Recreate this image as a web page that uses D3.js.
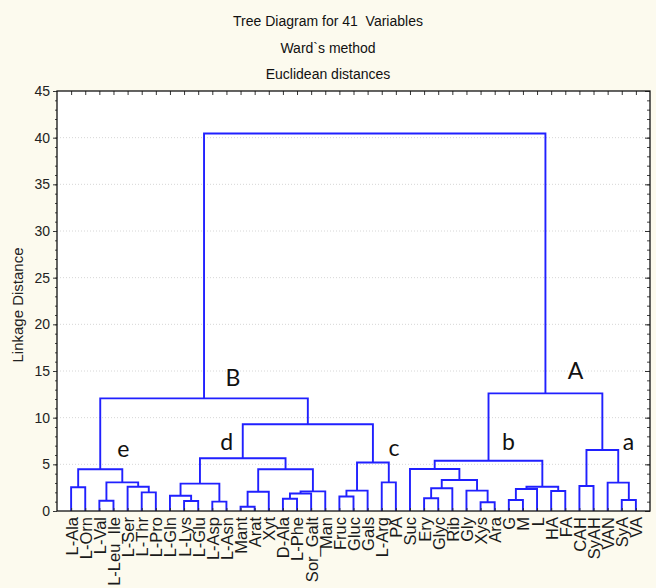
<!DOCTYPE html>
<html><head><meta charset="utf-8">
<script src="https://cdn.jsdelivr.net/npm/d3@7"></script>
<style>body{margin:0;background:#fcfaee}svg{display:block}</style>
</head><body>
<svg id="c" width="656" height="588"></svg>
<script>
const titleLines = ["Tree Diagram for 41  Variables", "Ward`s method", "Euclidean distances"];
const yAxisTitle = "Linkage Distance";
const yTicks = [0, 5, 10, 15, 20, 25, 30, 35, 40, 45];
const leafLabels = ["L-Ala","L-Orn","L-Val","L-Leu_Ile","L-Ser","L-Thr","L-Pro","L-Gln","L-Lys","L-Glu",
  "L-Asp","L-Asn","Mant","Arat","Xyt","D-Ala","L-Phe","Sor_Galt","Man","Fruc",
  "Gluc","Gals","L-Arg","PA","Suc","Ery","Glyc","Rib","Gly","Xys",
  "Ara","G","M","L","HA","FA","CAH","SyAH","VAN","SyA","VA"];
// linkage: node ids < 41 are leaves, ids >= 41 are earlier merges (41 + index)
const mergeLeft   = [0, 2, 5, 4, 42, 41, 8, 7, 10, 48, 12, 51, 15, 53, 54, 52, 50, 19, 58, 22, 59, 57, 46, 25, 64, 29, 28, 65, 24, 31, 70, 34, 71, 69, 36, 39, 38, 75, 74, 63];
const mergeRight  = [1, 3, 6, 43, 44, 45, 9, 47, 11, 49, 13, 14, 16, 17, 18, 55, 56, 20, 21, 23, 60, 61, 62, 26, 27, 30, 66, 67, 68, 32, 33, 35, 72, 73, 37, 40, 76, 77, 78, 79];
const mergeHeight = [2.55, 1.1, 2.0, 2.6, 3.07, 4.47, 1.07, 1.64, 1.0, 2.93, 0.45, 2.07, 1.32, 1.88, 2.1, 4.47, 5.65, 1.55, 2.18, 3.07, 5.2, 9.29, 12.07, 1.36, 2.43, 0.93, 2.18, 3.32, 4.5, 1.18, 2.36, 2.14, 2.6, 5.38, 2.68, 1.18, 3.04, 6.54, 12.6, 40.45];
const clusterNames = ["A", "B", "a", "b", "c", "d", "e"];
const clusterNodes = [79, 63, 78, 74, 61, 57, 46];

const W = 656, H = 588;
const L = 57, R = 650, T = 91, B = 511;
const svg = d3.select("#c");
svg.append("rect").attr("width", W).attr("height", H).attr("fill", "#fcfaee");
svg.append("rect").attr("x", L).attr("y", T).attr("width", R - L).attr("height", B - T).attr("fill", "#ffffff");

const x = d3.scalePoint().domain(d3.range(leafLabels.length)).range([L, R]).padding(1);
const y = d3.scaleLinear().domain([0, 45]).range([B, T]);

// grid
svg.append("g").selectAll("line").data(yTicks.filter(v => v > 0 && v < 45)).join("line")
  .attr("x1", L).attr("x2", R).attr("y1", d => y(d)).attr("y2", d => y(d))
  .attr("stroke", "#d6d6d6").attr("stroke-width", 1).attr("stroke-dasharray", "1,2");

// dendrogram
const nx = leafLabels.map((d, i) => x(i));
const nh = leafLabels.map(() => 0);
mergeLeft.forEach((l, k) => {
  const r = mergeRight[k];
  nx.push((nx[l] + nx[r]) / 2);
  nh.push(mergeHeight[k]);
});
svg.append("g").selectAll("path").data(mergeLeft.map((l, k) => k)).join("path")
  .attr("d", k => {
    const l = mergeLeft[k], r = mergeRight[k], h = mergeHeight[k];
    return `M${nx[l]},${y(nh[l])}V${y(h)}H${nx[r]}V${y(nh[r])}`;
  })
  .attr("fill", "none").attr("stroke", "#2020ff").attr("stroke-width", 1.9);

// axes
const minor = d3.range(0, 46, 1);
const gl = svg.append("g").attr("transform", `translate(${L},0)`)
  .call(d3.axisLeft(y).tickValues(yTicks).tickSize(4).tickPadding(3));
gl.select(".domain").remove();
gl.selectAll("text").attr("font-family", "Liberation Sans, Arial, sans-serif").attr("font-size", 14).attr("fill", "#222");
gl.selectAll("line").attr("stroke", "#333");
svg.append("g").attr("transform", `translate(${L},0)`)
  .call(d3.axisLeft(y).tickValues(minor).tickSize(2).tickFormat(""))
  .call(g => g.select(".domain").remove()).selectAll("line").attr("stroke", "#444");
svg.append("g").attr("transform", `translate(${R},0)`)
  .call(d3.axisLeft(y).tickValues(minor).tickSize(3).tickFormat(""))
  .call(g => g.select(".domain").remove()).selectAll("line").attr("stroke", "#444");
svg.append("g").attr("transform", `translate(${R},0)`)
  .call(d3.axisLeft(y).tickValues(yTicks).tickSize(5).tickFormat(""))
  .call(g => g.select(".domain").remove()).selectAll("line").attr("stroke", "#333");
svg.append("g").attr("transform", `translate(0,${T})`)
  .call(d3.axisBottom(x).tickSize(4).tickFormat(""))
  .call(g => g.select(".domain").remove()).selectAll("line").attr("stroke", "#333");
svg.append("g").attr("transform", `translate(0,${B})`)
  .call(d3.axisTop(x).tickSize(3).tickFormat(""))
  .call(g => g.select(".domain").remove()).selectAll("line").attr("stroke", "#333");
const gb = svg.append("g").attr("transform", `translate(0,${B})`)
  .call(d3.axisBottom(x).tickSize(0).tickFormat(i => leafLabels[i]));
gb.select(".domain").remove();
gb.selectAll("text")
  .attr("transform", "rotate(-90)").attr("text-anchor", "end")
  .attr("x", -6).attr("y", 0).attr("dy", "0.36em")
  .attr("font-family", "Liberation Sans, Arial, sans-serif").attr("font-size", 16.5).attr("fill", "#1a1a1a");

// frame
svg.append("rect").attr("x", L).attr("y", T).attr("width", R - L).attr("height", B - T)
  .attr("fill", "none").attr("stroke", "#111").attr("stroke-width", 1.3);

// titles
svg.append("g").selectAll("text").data(titleLines).join("text")
  .attr("x", 328).attr("y", (d, i) => 26 + i * 26.5)
  .attr("text-anchor", "middle").attr("font-family", "Liberation Sans, Arial, sans-serif")
  .style("white-space", "pre")
  .attr("font-size", 14).attr("fill", "#111").text(d => d);
svg.append("text").attr("transform", "translate(23,305) rotate(-90)")
  .attr("text-anchor", "middle").attr("font-family", "Liberation Sans, Arial, sans-serif")
  .attr("font-size", 15).attr("fill", "#222").text(yAxisTitle);

// cluster letters
const labelOffset = {A: [30, -14], B: [29, -12], a: [26, 0], b: [20, -11], c: [21, -6], d: [-16, -8], e: [23, -12]};
svg.append("g").selectAll("text").data(clusterNames).join("text")
  .attr("x", (d, i) => nx[clusterNodes[i]] + labelOffset[d][0])
  .attr("y", (d, i) => y(nh[clusterNodes[i]]) + labelOffset[d][1])
  .attr("text-anchor", "middle").attr("font-family", "Lato, Open Sans, sans-serif")
  .attr("font-size", 23).attr("fill", "#111").text(d => d);
</script>
</body></html>
